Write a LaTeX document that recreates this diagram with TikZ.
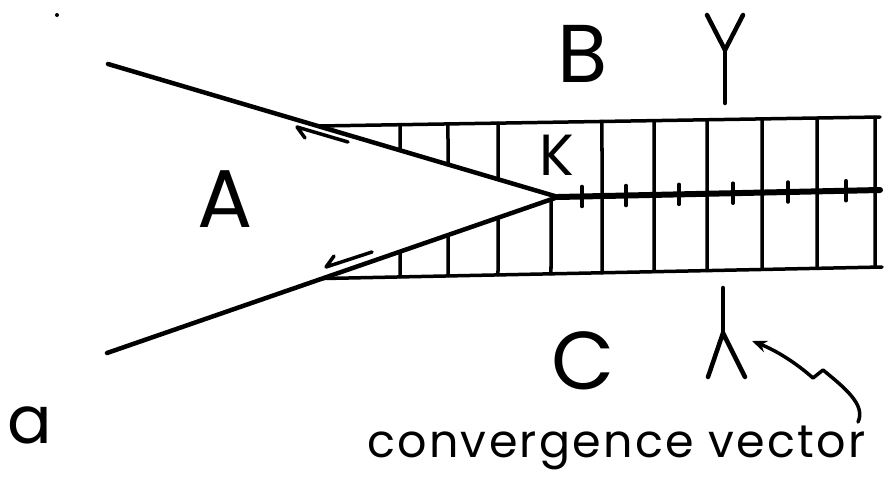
\documentclass[tikz,border=0pt]{standalone}
\usepackage{fontspec}
\setmainfont{Poppins}
\usetikzlibrary{arrows.meta,calc}
\begin{document}
\begin{tikzpicture}[x=1pt,y=-1pt, line cap=round, line join=round,
  fault/.style={line width=4.5pt},
  bandline/.style={line width=3.5pt},
  gridline/.style={line width=3.5pt},
  centre/.style={line width=6pt},
  halfarrow/.style={line width=3.5pt},
  vecsym/.style={line width=4.5pt},
  biglbl/.style={inner sep=0pt, anchor=base, font=\fontsize{82}{82}\selectfont},
  midlbl/.style={inner sep=0pt, anchor=base, font=\fontsize{58}{58}\selectfont},
  smalla/.style={inner sep=0pt, anchor=base, font=\fontsize{66}{66}\selectfont},
  txtlbl/.style={inner sep=0pt, anchor=base west, font=\fontsize{46}{46}\selectfont\addfontfeature{LetterSpace=5}}]
\useasboundingbox (0,0) rectangle (886,482);
% key points
\coordinate (UL) at (108,64);
\coordinate (LL) at (107,353);
\coordinate (K) at (558,197);
\coordinate (FR) at (880,190);
\coordinate (T1) at (300,126.3);
\coordinate (T2) at (880,117);
\coordinate (B1) at (300,279);
\coordinate (B2) at (882,267);
\coordinate (TS) at (intersection of UL--K and T1--T2);
\coordinate (BS) at (intersection of LL--K and B1--B2);
% band boundaries
\draw[bandline] (TS) -- (T2);
\draw[bandline] (BS) -- (B2);
% verticals in the wedge part
\foreach \x in {400,448,498}{
  \draw[gridline] ($(UL)!{(\x-108)/450}!(K)$) -- ($(T1)!{(\x-300)/580}!(T2)$);
}
\foreach \x in {400,448,498,551}{
  \draw[gridline] ($(LL)!{(\x-107)/451}!(K)$) -- ($(B1)!{(\x-300)/582}!(B2)$);
}
% full verticals
\foreach \x in {602,654,707,762,817,875}{
  \draw[gridline] ($(T1)!{(\x-300)/580}!(T2)$) -- ($(B1)!{(\x-300)/582}!(B2)$);
}
% faults
\draw[fault] (UL) -- (K);
\draw[fault] (LL) -- (K);
\draw[centre] (K) -- (FR);
% ticks on the transform fault
\foreach \x in {582,626,679,733,788,846}{
  \coordinate (c) at ($(K)!{(\x-558)/322}!(FR)$);
  \draw[gridline] ($(c)+(0,-10)$) -- ($(c)+(0,10)$);
}
% half arrows
\draw[halfarrow] (348,142) -- (297,127) -- (305,138);
\draw[halfarrow] (372,252) -- (326,267) -- (334,256);
% convergence vector symbols
\coordinate (Ytop) at (725,50);
\draw[vecsym] (707,15) -- (Ytop) -- (743,15);
\draw[vecsym] (Ytop) -- (725,103);
\coordinate (Ybot) at (723,333);
\draw[vecsym] (708,377) -- (Ybot) -- (745,377);
\draw[vecsym] (Ybot) -- (723,288);
% curved pointer
\draw[line width=3.5pt, -{Stealth[length=15pt,width=12pt]}]
  (858,422) .. controls (866,405) and (845,388) .. (823,370) -- (813,378)
  .. controls (795,362) and (775,350) .. (752,341);
% stray dot
\fill (57,15) circle (2);
% labels
\node[biglbl] (lB) at (583,82) {B};
\node[biglbl] (lA) at (225,227) {A};
\node[biglbl] (lC) at (583,389) {C};
\node[midlbl] (lK) at (557,175) {K};
\node[smalla] (la) at (30,443) {a};
\node[txtlbl] (lv) at (367,457) {convergence vector};
\end{tikzpicture}
\end{document}
